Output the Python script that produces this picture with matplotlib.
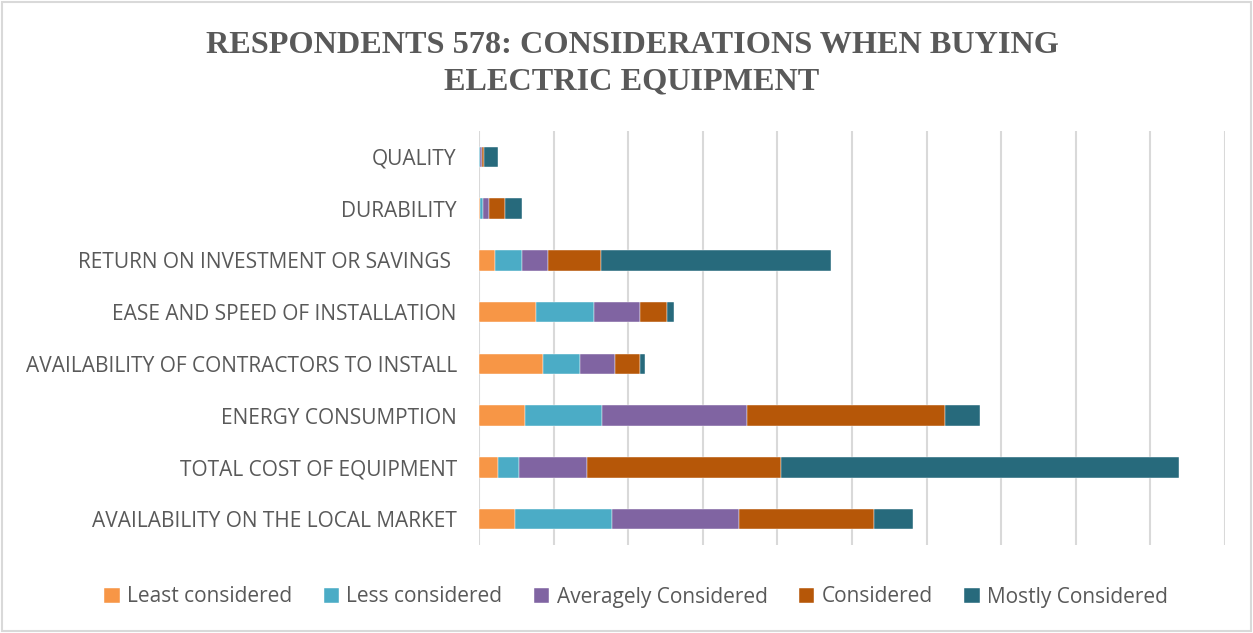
import matplotlib
matplotlib.use("Agg")
import matplotlib.pyplot as plt
from matplotlib.patches import Rectangle

# categories, bottom to top (Excel order)
categories = ["AVAILABILITY ON THE LOCAL MARKET", "TOTAL COST OF EQUIPMENT",
              "ENERGY CONSUMPTION", "AVAILABILITY OF CONTRACTORS TO INSTALL",
              "EASE AND SPEED OF INSTALLATION", "RETURN ON INVESTMENT OR SAVINGS ",
              "DURABILITY", "QUALITY"]

least = [24, 13, 31, 43, 38, 10.5, 1, 0.3]
less = [65, 14, 51.5, 25, 39, 18, 1.5, 0.3]
average = [85, 45.5, 97, 23, 31, 17.5, 4, 1.5]
considered = [91, 130, 132.5, 17, 18, 36, 11, 1]
mostly = [26, 267, 24, 3, 4.5, 154, 11, 9.5]

series = [("Least considered", least, "#F79646"),
          ("Less considered", less, "#4BACC6"),
          ("Averagely Considered", average, "#8064A2"),
          ("Considered", considered, "#B65708"),
          ("Mostly Considered", mostly, "#276A7C")]

W, H = 1253, 633
fig = plt.figure(figsize=(W / 100, H / 100), dpi=100)
fig.patches.append(Rectangle((2 / W, 2 / H), 1 - 4 / W, 1 - 4 / H, transform=fig.transFigure,
                             fill=False, edgecolor="#D9D9D9", linewidth=1.5))

ax = fig.add_axes([479 / W, 1 - 545 / H, (1225 - 479) / W, (545 - 131) / H])

ypos = list(range(len(categories)))
left = [0] * len(categories)
for name, vals, col in series:
    ax.barh(ypos, vals, left=left, height=0.4, color=col, label=name,
            edgecolor="white", linewidth=0.3, zorder=3)
    left = [a + b for a, b in zip(left, vals)]

ax.set_xlim(0, 500)
ax.set_ylim(-0.5, len(categories) - 0.5)
ax.set_xticks(range(0, 501, 50))
ax.set_xticklabels([])
ax.tick_params(axis="x", length=0)
ax.grid(axis="x", color="#D9D9D9", linewidth=1.5, zorder=0)
ax.set_yticks(ypos)
ax.set_yticklabels(categories, fontsize=15, color="#595959", family="Open Sans")
ax.tick_params(axis="y", length=0, pad=16)
for s in ax.spines.values():
    s.set_visible(False)

fig.text(632 / W, 1 - 64 / H, "RESPONDENTS 578: CONSIDERATIONS WHEN BUYING\nELECTRIC EQUIPMENT",
         ha="center", va="center", fontsize=23.2, fontweight="bold", color="#595959",
         family="Liberation Serif", linespacing=1.35)

leg = fig.legend(loc="center", bbox_to_anchor=(636 / W, 1 - 597 / H), ncol=5, frameon=False,
                 prop={"family": "Open Sans", "size": 15}, handlelength=0.75, handleheight=0.75,
                 handletextpad=0.35, columnspacing=1.5)
for t in leg.get_texts():
    t.set_color("#595959")

fig.savefig("out.png", dpi=100)
